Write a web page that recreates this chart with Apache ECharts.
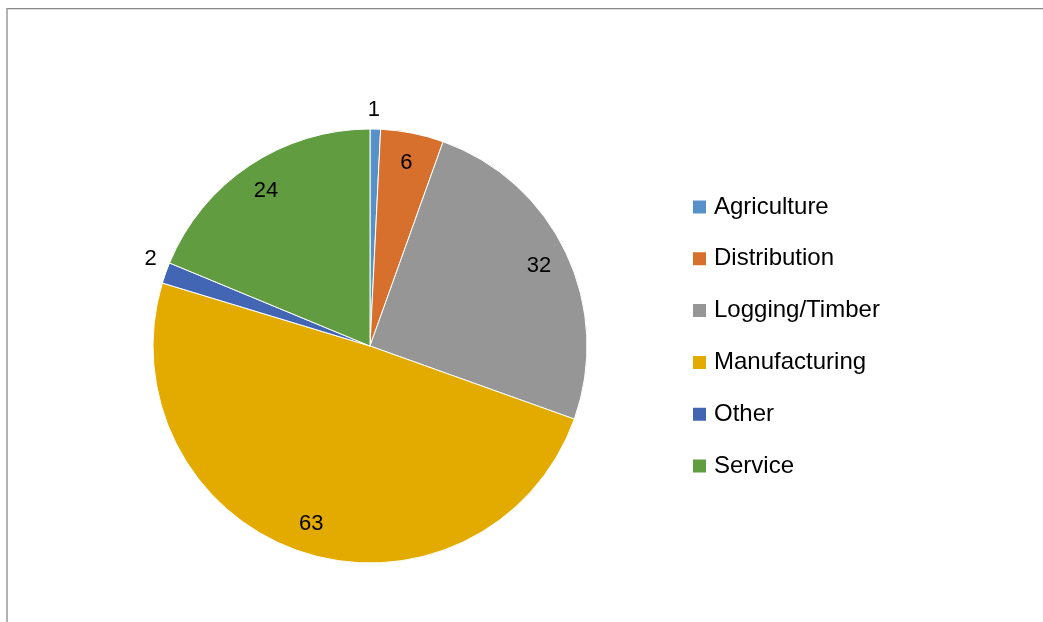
<!DOCTYPE html>
<html>
<head>
<meta charset="utf-8">
<script src="https://cdn.jsdelivr.net/npm/echarts@6/dist/echarts.min.js"></script>
<style>
  html, body { margin: 0; padding: 0; background: #fff; }
  #frame {
    position: absolute; left: 6px; top: 8px; width: 1100px; height: 700px;
    border-top: 1px solid #8a8a8a; border-left: 2px solid #b3b3b3;
    box-shadow: inset 0 1px 0 #dedede;
  }
  #chart { position: absolute; left: 0; top: 0; width: 1043px; height: 622px; }
</style>
</head>
<body>
<div id="frame"></div>
<div id="chart"></div>
<script>
// 数据
const categories = ['Agriculture', 'Distribution', 'Logging/Timber', 'Manufacturing', 'Other', 'Service']
const values = [1, 6, 32, 63, 2, 24]
const colors = ['#5691c9', '#d6702c', '#969696', '#e3aa00', '#4366b4', '#629c40']

const FONT = '"Liberation Sans", Arial, sans-serif'

const chart = echarts.init(document.getElementById('chart'))

// 饼图本体（无标签）
const pieData = categories.map((name, i) => ({
  name,
  value: values[i],
  itemStyle: { color: colors[i] },
}))

// 透明环形，只负责标签位置（内侧 ~0.85r，小扇区放外侧）
const labelData = categories.map((name, i) => ({
  name,
  value: values[i],
  label: { position: values[i] < 3 ? 'outside' : 'inside' },
}))

chart.setOption({
  animation: false,
  legend: {
    orient: 'vertical',
    left: 691,
    top: 195,
    padding: 0,
    itemWidth: 15,
    itemHeight: 15,
    itemGap: 27.8,
    icon: 'rect',
    data: categories,
    selectedMode: false,
    textStyle: { fontFamily: FONT, fontSize: 24, color: '#000', lineHeight: 24, padding: [0, 0, 0, 2] },
  },
  series: [
    {
      type: 'pie',
      center: [370, 346],
      radius: [0, 217],
      startAngle: 90,
      clockwise: true,
      silent: true,
      data: pieData,
      label: { show: false },
      labelLine: { show: false },
      itemStyle: { borderColor: '#fff', borderWidth: 1 },
    },
    {
      type: 'pie',
      center: [370, 346],
      radius: [151, 217],
      startAngle: 90,
      clockwise: true,
      silent: true,
      avoidLabelOverlap: false,
      data: labelData,
      itemStyle: { color: 'rgba(0,0,0,0)', borderWidth: 0 },
      label: {
        show: true,
        formatter: '{c}',
        fontFamily: FONT,
        fontSize: 22,
        color: '#000',
      },
      labelLine: { show: false, length: 19, length2: 0 },
      // 外侧小标签微调
      labelLayout: (p) => {
        if (values[p.dataIndex] >= 3) return {}
        return p.align === 'right' ? { dx: 14, dy: -8 } : { dx: -13 }
      },
    },
  ],
})

window.addEventListener('resize', () => chart.resize())
</script>
</body>
</html>
